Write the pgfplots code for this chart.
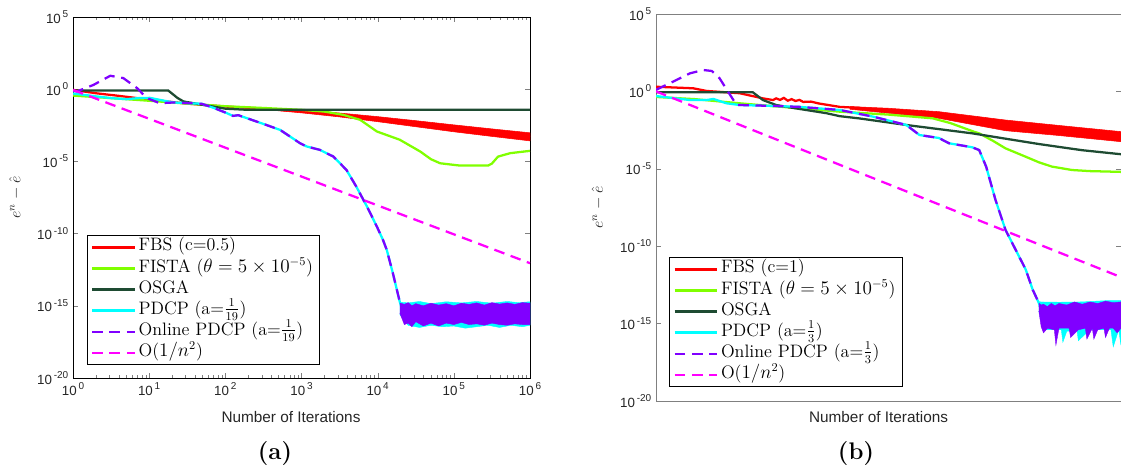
\documentclass[border=0pt]{standalone}
\usepackage{fontspec}
\usepackage{pgfplots}
\pgfplotsset{compat=1.18}
\newfontfamily\hv{Liberation Sans}
\definecolor{fbs}{RGB}{255,0,0}
\definecolor{fista}{RGB}{128,255,0}
\definecolor{osga}{RGB}{30,75,50}
\definecolor{pdcp}{RGB}{0,255,255}
\definecolor{opdcp}{RGB}{128,0,255}
\definecolor{onn}{RGB}{255,0,255}
\definecolor{tkc}{RGB}{38,38,38}
\definecolor{axg}{RGB}{128,128,128}
\newcommand{\tk}[1]{\mbox{\hv 10\hspace{1.4pt}\raisebox{0.8ex}{\fontsize{7.5}{8}\selectfont #1}}}
\pgfplotsset{
  mystyle/.style={
    scale only axis,
    xmin=0, xmax=6, ymin=-20, ymax=5,
    tick align=inside, major tick length=4pt, minor tick length=2.2pt,
    ytick={-20,-15,-10,-5,0,5},
    yticklabels={\tk{-20},\tk{-15},\tk{-10},\tk{-5},\tk{0},\tk{5}},
    ticklabel style={font=\fontsize{10}{12}\selectfont, text=tkc},
    legend cell align=left,
    legend style={font=\fontsize{13.5}{15}\selectfont, draw=black, line width=0.6pt,
      at={(0,0)}, anchor=south west, inner xsep=3pt, inner ysep=1pt,
      nodes={text height=8.6pt, text depth=3.2pt, inner sep=2pt}, row sep=0pt},
    legend image code/.code={\draw[#1,line width=1.7pt] (0pt,0pt) -- (32pt,0pt);},
    every axis plot/.append style={line width=1.7pt},
  },
  dsh/.style={dash pattern=on 8pt off 5pt},
}
\begin{document}
\begin{tikzpicture}
% ---------------- panel (a) ----------------
\begin{axis}[mystyle,
  at={(54.75pt,66pt)}, anchor=south west, width=342.75pt, height=270.75pt,
  axis line style={black, line width=0.7pt},
  xtick={0,1,2,3,4,5,6},
  xticklabels={\tk{0},\tk{1},\tk{2},\tk{3},\tk{4},\tk{5},\tk{6}},
  minor xtick={0.301,0.477,0.602,0.699,0.778,0.845,0.903,0.954,
    1.301,1.477,1.602,1.699,1.778,1.845,1.903,1.954,
    2.301,2.477,2.602,2.699,2.778,2.845,2.903,2.954,
    3.301,3.477,3.602,3.699,3.778,3.845,3.903,3.954,
    4.301,4.477,4.602,4.699,4.778,4.845,4.903,4.954,
    5.301,5.477,5.602,5.699,5.778,5.845,5.903,5.954},
  legend style={xshift=10.2pt, yshift=9.75pt},
]
\addplot[fbs, fill=fbs, line width=0.4pt, forget plot] coordinates {
 (2.5,-1.30) (3,-1.43) (3.5,-1.65) (4,-1.90) (4.5,-2.18) (5,-2.47) (5.5,-2.75) (6,-3.02)
 (6,-3.58) (5.5,-3.27) (5,-2.95) (4.5,-2.60) (4,-2.25) (3.5,-1.92) (3,-1.64) (2.5,-1.40)};
\addplot[fbs] coordinates {
 (0,-0.05) (0.3,-0.28) (0.6,-0.46) (1,-0.72) (1.5,-1.0) (2,-1.2) (2.5,-1.35) (3,-1.53)
 (3.5,-1.78) (4,-2.07) (4.5,-2.38) (5,-2.7) (5.5,-3.0) (6,-3.3)};
\addlegendentry{FBS (c=0.5)}
\addplot[fista] coordinates {
 (0,-0.44) (0.5,-0.62) (1,-0.8) (1.5,-1.0) (2,-1.18) (2.5,-1.3) (3,-1.43) (3.3,-1.55)
 (3.55,-1.78) (3.77,-2.12) (3.99,-2.93) (4.29,-3.5) (4.56,-4.32) (4.70,-4.85) (4.82,-5.13)
 (5.08,-5.29) (5.45,-5.29) (5.5,-5.15) (5.58,-4.67) (5.74,-4.43) (6,-4.27)};
\addlegendentry{FISTA ($\theta = 5\times10^{-5}$)}
\addplot[osga] coordinates {
 (0,-0.09) (1.25,-0.09) (1.3,-0.3) (1.37,-0.6) (1.45,-0.85) (1.67,-1.05) (2,-1.35)
 (2.3,-1.43) (6,-1.43)};
\addlegendentry{OSGA}
\addplot[pdcp, fill=pdcp, line width=0.3pt, forget plot] coordinates {
 (4.29,-14.75) (4.4,-14.8) (4.55,-14.7) (4.7,-14.85) (4.9,-14.72) (5.1,-14.8) (5.3,-14.7)
 (5.5,-14.82) (5.7,-14.7) (5.85,-14.78) (6,-14.72)
 (6,-16.35) (5.9,-16.45) (5.75,-16.35) (5.6,-16.5) (5.45,-16.35) (5.3,-16.45) (5.15,-16.55)
 (5.0,-16.4) (4.85,-16.45) (4.7,-16.35) (4.55,-16.5) (4.4,-16.35) (4.29,-15.6)};
\addplot[pdcp] coordinates {
 (0,-0.3) (0.31,-0.5) (0.5,-0.62) (0.7,-0.69) (0.85,-0.62) (1.01,-0.6) (1.15,-0.75)
 (1.32,-0.92) (1.69,-1.01) (1.85,-1.3) (2.02,-1.66) (2.1,-1.85) (2.17,-1.8) (2.47,-2.35)
 (2.72,-2.82) (2.98,-3.74) (3.07,-3.97) (3.24,-4.2) (3.42,-4.67) (3.59,-5.59) (3.72,-6.75)
 (3.86,-8.13) (3.99,-9.52) (4.07,-10.44) (4.12,-11.14) (4.2,-12.75) (4.29,-14.72) (4.33,-15.4)};
\addlegendentry{PDCP (a=$\frac{1}{19}$)}
\addplot[opdcp, fill=opdcp, line width=0.3pt, forget plot] coordinates {
 (4.29,-14.8) (4.35,-14.9) (4.4,-14.78) (4.45,-15.0) (4.5,-14.85) (4.6,-15.0) (4.7,-14.82)
 (4.8,-14.95) (4.9,-14.85) (5.0,-15.0) (5.1,-14.82) (5.2,-14.9) (5.3,-14.8) (5.4,-14.95)
 (5.5,-14.78) (5.6,-14.88) (5.7,-14.8) (5.8,-14.9) (5.9,-14.78) (6,-14.82)
 (6,-16.3) (5.9,-16.3) (5.8,-16.25) (5.7,-16.35) (5.6,-16.3) (5.5,-16.2) (5.4,-16.35)
 (5.3,-16.25) (5.2,-16.3) (5.1,-16.15) (5.0,-16.3) (4.9,-16.2) (4.8,-16.4) (4.7,-16.2)
 (4.6,-16.4) (4.5,-16.1) (4.45,-16.45) (4.4,-16.2) (4.35,-16.3) (4.29,-15.5)};
\addplot[opdcp, dsh] coordinates {
 (0,-0.1) (0.05,-0.16) (0.27,0.3) (0.49,0.93) (0.66,0.77) (0.84,0.08) (0.97,-0.62)
 (1.14,-0.97) (1.32,-0.92) (1.69,-1.01) (1.85,-1.3) (2.02,-1.66) (2.1,-1.85) (2.17,-1.8)
 (2.47,-2.35) (2.72,-2.82) (2.98,-3.74) (3.07,-3.97) (3.24,-4.2) (3.42,-4.67) (3.59,-5.59)
 (3.72,-6.75) (3.86,-8.13) (3.99,-9.52) (4.07,-10.44) (4.12,-11.14) (4.2,-12.75)
 (4.29,-14.72) (4.33,-15.4)};
\addlegendentry{Online PDCP (a=$\frac{1}{19}$)}
\addplot[onn, dsh] coordinates {(0,-0.05) (6,-12.05)};
\addlegendentry{O($1/n^2$)}
\end{axis}
% ---------------- panel (b) ----------------
\begin{axis}[mystyle,
  at={(492pt,48.75pt)}, anchor=south west, width=348.75pt, height=290.25pt,
  axis line style={axg, line width=0.7pt},
  xtick=\empty,
  legend style={xshift=9.75pt, yshift=10.5pt, draw=black},
]
\addplot[fbs, fill=fbs, line width=0.4pt, forget plot] coordinates {
 (2.5,-0.98) (3,-1.09) (3.65,-1.31) (4.51,-1.85) (5.2,-2.2) (6,-2.6)
 (6,-3.25) (5.2,-2.85) (4.51,-2.54) (3.65,-1.74) (3,-1.41) (2.5,-1.15)};
\addplot[fbs] coordinates {
 (0,0.3) (0.48,0.2) (0.65,0.03) (1.08,-0.12) (1.38,-0.45) (1.51,-0.56) (1.55,-0.45)
 (1.6,-0.55) (1.65,-0.42) (1.7,-0.6) (1.75,-0.5) (1.8,-0.62) (1.85,-0.55) (1.9,-0.68)
 (2.0,-0.66) (2.1,-0.78) (2.37,-1.0) (2.63,-1.07) (3,-1.25) (3.65,-1.52) (4.51,-2.17) (6,-2.93)};
\addlegendentry{FBS (c=1)}
\addplot[fista] coordinates {
 (0,-0.36) (0.5,-0.5) (1.08,-0.77) (1.5,-0.95) (2,-1.15) (2.37,-1.31) (3,-1.5) (3.57,-1.74)
 (3.8,-2.05) (4.1,-2.6) (4.17,-2.71) (4.35,-3.2) (4.51,-3.68) (4.77,-4.22) (4.94,-4.58)
 (5.11,-4.86) (5.37,-5.08) (5.6,-5.15) (6,-5.2)};
\addlegendentry{FISTA ($\theta = 5\times10^{-5}$)}
\addplot[osga] coordinates {
 (0,-0.06) (1.25,-0.06) (1.38,-0.56) (1.55,-0.88) (1.77,-1.07) (2.2,-1.41) (2.37,-1.6)
 (2.63,-1.75) (3.23,-2.17) (4.08,-2.71) (4.94,-3.4) (5.5,-3.8) (6,-4.06)};
\addlegendentry{OSGA}
\addplot[pdcp, fill=pdcp, line width=0.3pt, forget plot] coordinates {
 (4.94,-13.6) (5.2,-13.62) (5.5,-13.6) (5.8,-13.52) (6,-13.52)
 (6,-16.4) (5.97,-15.4) (5.9,-16.5) (5.87,-15.4) (5.6,-15.4) (5.45,-16.1) (5.43,-15.4)
 (5.3,-15.5) (5.25,-16.2) (5.23,-15.4) (5.0,-15.4) (4.94,-14.2)};
\addplot[pdcp] coordinates {
 (0,-0.3) (0.44,-0.56) (0.65,-0.56) (0.74,-0.49) (0.91,-0.77) (1.08,-0.88) (1.51,-0.94)
 (1.85,-1.0) (2.37,-1.2) (2.8,-1.63) (3.23,-2.17) (3.4,-2.82) (3.65,-3.01) (3.78,-3.35)
 (4.08,-3.61) (4.17,-3.79) (4.26,-4.86) (4.38,-7.0) (4.51,-8.95) (4.77,-11.5) (4.86,-12.8)
 (4.94,-13.67) (4.98,-14.3)};
\addlegendentry{PDCP (a=$\frac{1}{3}$)}
\addplot[opdcp, fill=opdcp, line width=0.3pt, forget plot] coordinates {
 (4.94,-13.67) (4.97,-13.8) (5.0,-13.75) (5.05,-13.9) (5.1,-13.7) (5.15,-13.85) (5.2,-13.7)
 (5.3,-13.8) (5.4,-13.6) (5.5,-13.75) (5.6,-13.6) (5.7,-13.7) (5.8,-13.55) (5.9,-13.65) (6,-13.6)
 (6,-15.3) (5.95,-15.6) (5.9,-15.3) (5.85,-15.3) (5.8,-15.9) (5.78,-15.3) (5.7,-15.4)
 (5.65,-16.0) (5.63,-15.3) (5.56,-16.0) (5.54,-15.3) (5.45,-15.4) (5.35,-15.9) (5.33,-15.3)
 (5.2,-15.3) (5.16,-16.4) (5.14,-15.4) (5.05,-15.3) (5.0,-15.6) (4.97,-15.2) (4.94,-14.2)};
\addplot[opdcp, dsh] coordinates {
 (0,0.1) (0.22,0.63) (0.44,1.17) (0.61,1.38) (0.72,1.32) (0.82,0.85) (0.93,-0.02)
 (1.04,-0.88) (1.08,-0.88) (1.51,-0.94) (1.85,-1.0) (2.37,-1.2) (2.8,-1.63) (3.23,-2.17)
 (3.4,-2.82) (3.65,-3.01) (3.78,-3.35) (4.08,-3.61) (4.17,-3.79) (4.26,-4.86) (4.38,-7.0)
 (4.51,-8.95) (4.77,-11.5) (4.86,-12.8) (4.94,-13.67) (4.98,-14.3)};
\addlegendentry{Online PDCP (a=$\frac{1}{3}$)}
\addplot[onn, dsh] coordinates {(0,0.0) (6,-12.0)};
\addlegendentry{O($1/n^2$)}
\end{axis}
% axis labels
\node[font=\fontsize{11.5}{13}\selectfont\hv, text=tkc] at (218.25pt,36.75pt) {Number of Iterations};
\node[font=\fontsize{11.5}{13}\selectfont\hv, text=tkc] at (658.9pt,36.75pt) {Number of Iterations};
\node[font=\fontsize{12}{14}\selectfont, text=tkc, rotate=90] at (11.6pt,201.4pt) {$e^n-\hat{e}$};
\node[font=\fontsize{12}{14}\selectfont, text=tkc, rotate=90] at (448.5pt,193.9pt) {$e^n-\hat{e}$};
\node[font=\fontsize{18}{21}\selectfont\bfseries] at (206.25pt,9pt) {(a)};
\node[font=\fontsize{18}{21}\selectfont\bfseries] at (642pt,9pt) {(b)};
\pgfresetboundingbox
\path (0pt,0pt) rectangle (840.75pt,349.5pt);
\end{tikzpicture}
\end{document}
